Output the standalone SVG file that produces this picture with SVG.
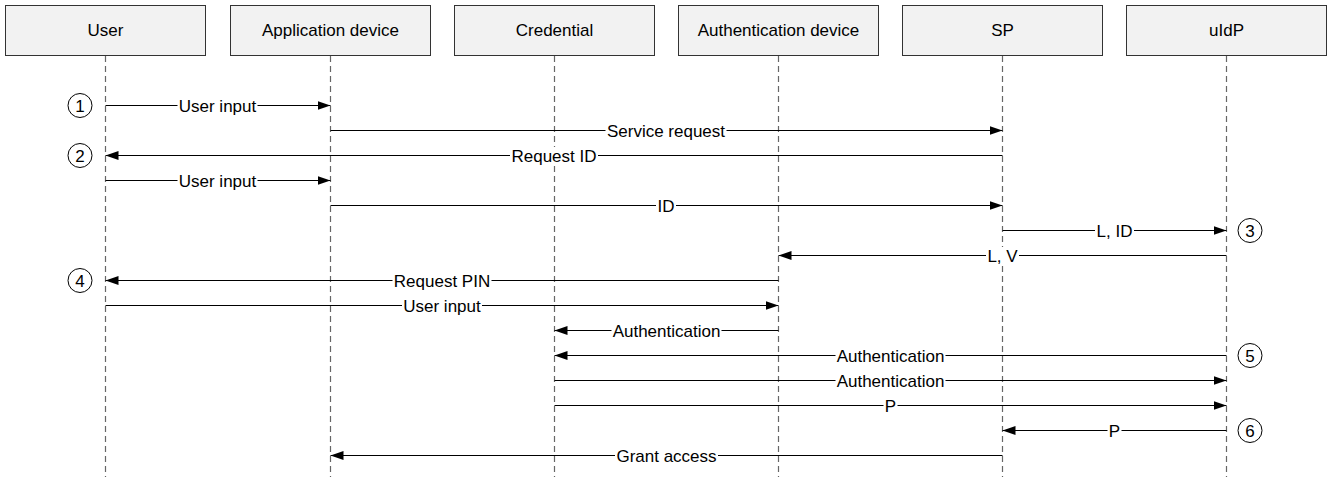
<svg xmlns="http://www.w3.org/2000/svg" width="1333" height="477" viewBox="0 0 1333 477">
<style>
.box{fill:#f2f2f2;stroke:#333;stroke-width:1}
.t{font-family:"Liberation Sans",Arial,sans-serif;font-size:17px;fill:#000;text-anchor:middle}
.life{stroke:#666;stroke-width:1.2;stroke-dasharray:6 4;fill:none}
.msg{stroke:#000;stroke-width:1;fill:none}
.bg{fill:#fff}
.num{fill:#fff;stroke:#000;stroke-width:1}
</style>
<defs>
<marker id="ah" markerUnits="userSpaceOnUse" markerWidth="14" markerHeight="10" refX="13" refY="4.5" orient="auto">
<path d="M0,0 L13,4.5 L0,9 z" fill="#000"/>
</marker>
</defs>
<rect width="1333" height="477" fill="#fff"/>
<g id="user"><rect class="box" x="5.5" y="5.5" width="200" height="50"/><text class="t" x="105.5" y="36">User</text><line class="life" x1="105.5" y1="56" x2="105.5" y2="477"/></g>
<g id="appdevice"><rect class="box" x="230.5" y="5.5" width="200" height="50"/><text class="t" x="330.5" y="36">Application device</text><line class="life" x1="330.5" y1="56" x2="330.5" y2="477"/></g>
<g id="credential"><rect class="box" x="454.5" y="5.5" width="200" height="50"/><text class="t" x="554.5" y="36">Credential</text><line class="life" x1="554.5" y1="56" x2="554.5" y2="477"/></g>
<g id="authdevice"><rect class="box" x="678.5" y="5.5" width="200" height="50"/><text class="t" x="778.5" y="36">Authentication device</text><line class="life" x1="778.5" y1="56" x2="778.5" y2="477"/></g>
<g id="sp"><rect class="box" x="902.5" y="5.5" width="200" height="50"/><text class="t" x="1002.5" y="36">SP</text><line class="life" x1="1002.5" y1="56" x2="1002.5" y2="477"/></g>
<g id="uidp"><rect class="box" x="1126.5" y="5.5" width="200" height="50"/><text class="t" x="1226.5" y="36">uIdP</text><line class="life" x1="1226.5" y1="56" x2="1226.5" y2="477"/></g>
<g id="connectors">
<line class="msg" x1="105.5" y1="105.5" x2="330.5" y2="105.5" marker-end="url(#ah)"/>
<rect class="bg" x="177.5" y="97" width="80" height="17"/><text class="t" x="217.5" y="111.5">User input</text>
<line class="msg" x1="330.5" y1="130.5" x2="1002.5" y2="130.5" marker-end="url(#ah)"/>
<rect class="bg" x="605.5" y="122" width="121" height="17"/><text class="t" x="666" y="136.5">Service request</text>
<line class="msg" x1="1002.5" y1="155.5" x2="105.5" y2="155.5" marker-end="url(#ah)"/>
<rect class="bg" x="510" y="147" width="88" height="17"/><text class="t" x="554" y="161.5">Request ID</text>
<line class="msg" x1="105.5" y1="180.5" x2="330.5" y2="180.5" marker-end="url(#ah)"/>
<rect class="bg" x="177.5" y="172" width="80" height="17"/><text class="t" x="217.5" y="186.5">User input</text>
<line class="msg" x1="330.5" y1="205.5" x2="1002.5" y2="205.5" marker-end="url(#ah)"/>
<rect class="bg" x="656" y="197" width="20" height="17"/><text class="t" x="666" y="211.5">ID</text>
<line class="msg" x1="1002.5" y1="230.5" x2="1226.5" y2="230.5" marker-end="url(#ah)"/>
<rect class="bg" x="1095" y="222" width="39" height="17"/><text class="t" x="1114.5" y="236.5">L, ID</text>
<line class="msg" x1="1226.5" y1="255.5" x2="778.5" y2="255.5" marker-end="url(#ah)"/>
<rect class="bg" x="986" y="247" width="33" height="17"/><text class="t" x="1002.5" y="261.5">L, V</text>
<line class="msg" x1="778.5" y1="280.5" x2="105.5" y2="280.5" marker-end="url(#ah)"/>
<rect class="bg" x="392.5" y="272" width="99" height="17"/><text class="t" x="442" y="286.5">Request PIN</text>
<line class="msg" x1="105.5" y1="305.5" x2="778.5" y2="305.5" marker-end="url(#ah)"/>
<rect class="bg" x="402" y="297" width="80" height="17"/><text class="t" x="442" y="311.5">User input</text>
<line class="msg" x1="778.5" y1="330.5" x2="554.5" y2="330.5" marker-end="url(#ah)"/>
<rect class="bg" x="611.5" y="322" width="110" height="17"/><text class="t" x="666.5" y="336.5">Authentication</text>
<line class="msg" x1="1226.5" y1="355.5" x2="554.5" y2="355.5" marker-end="url(#ah)"/>
<rect class="bg" x="835.5" y="347" width="110" height="17"/><text class="t" x="890.5" y="361.5">Authentication</text>
<line class="msg" x1="554.5" y1="380.5" x2="1226.5" y2="380.5" marker-end="url(#ah)"/>
<rect class="bg" x="835.5" y="372" width="110" height="17"/><text class="t" x="890.5" y="386.5">Authentication</text>
<line class="msg" x1="554.5" y1="405.5" x2="1226.5" y2="405.5" marker-end="url(#ah)"/>
<rect class="bg" x="883.5" y="397" width="14" height="17"/><text class="t" x="890.5" y="411.5">P</text>
<line class="msg" x1="1226.5" y1="430.5" x2="1002.5" y2="430.5" marker-end="url(#ah)"/>
<rect class="bg" x="1107.5" y="422" width="14" height="17"/><text class="t" x="1114.5" y="436.5">P</text>
<line class="msg" x1="1002.5" y1="455.5" x2="330.5" y2="455.5" marker-end="url(#ah)"/>
<rect class="bg" x="615" y="447" width="103" height="17"/><text class="t" x="666.5" y="461.5">Grant access</text>
</g>
<g id="step1"><circle class="num" cx="80" cy="105.5" r="12"/><text class="t" x="80" y="111.5">1</text></g>
<g id="step2"><circle class="num" cx="80" cy="155.5" r="12"/><text class="t" x="80" y="161.5">2</text></g>
<g id="step3"><circle class="num" cx="1250" cy="230.5" r="12"/><text class="t" x="1250" y="236.5">3</text></g>
<g id="step4"><circle class="num" cx="80" cy="280.5" r="12"/><text class="t" x="80" y="286.5">4</text></g>
<g id="step5"><circle class="num" cx="1250" cy="355.5" r="12"/><text class="t" x="1250" y="361.5">5</text></g>
<g id="step6"><circle class="num" cx="1250" cy="430.5" r="12"/><text class="t" x="1250" y="436.5">6</text></g>
</svg>
